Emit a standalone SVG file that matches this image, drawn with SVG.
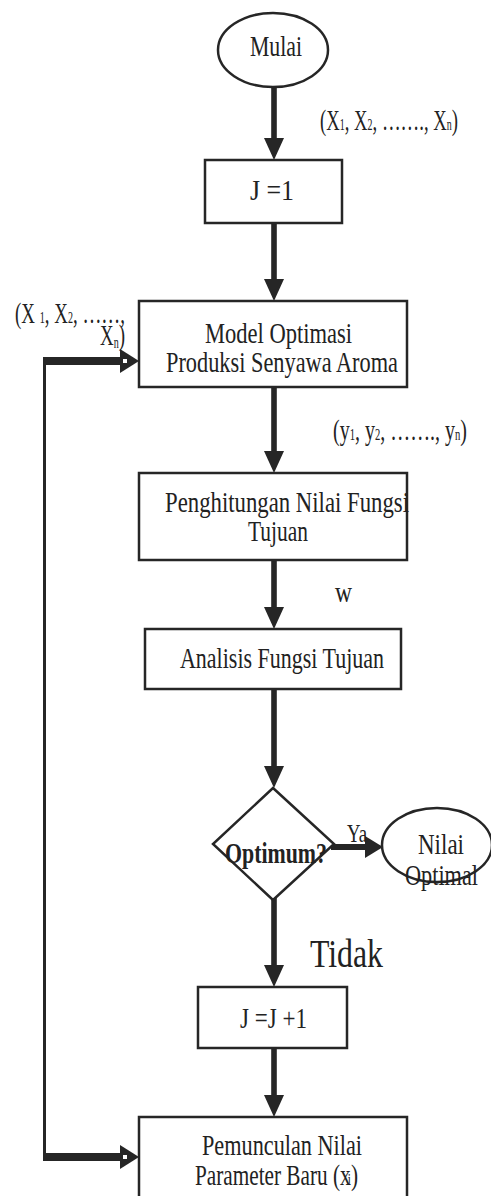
<svg xmlns="http://www.w3.org/2000/svg" width="491" height="1196" viewBox="0 0 491 1196">
<style>
.box{fill:#fff;stroke:#262626;stroke-width:2.5}
.term{fill:#fff;stroke:#262626;stroke-width:2.5}
.t{font-family:"Liberation Serif","Times New Roman",serif;font-size:30px;fill:#222}
.b{font-weight:bold}
.sub{font-size:16px}
.shaft{fill:#262626}
.head{fill:#262626}
.thin{stroke:#262626;stroke-width:3;fill:none}
</style>
<rect width="491" height="1196" fill="#fff"/>
<g id="connectors">
  <rect class="shaft" x="271.2" y="88" width="5.6" height="52"/>
  <polygon class="head" points="264,138 284,138 274,160"/>
  <rect class="shaft" x="271.2" y="221" width="5.6" height="60"/>
  <polygon class="head" points="264,279 284,279 274,301"/>
  <rect class="shaft" x="271.2" y="386" width="5.6" height="67"/>
  <polygon class="head" points="264,451 284,451 274,473"/>
  <rect class="shaft" x="271.2" y="558" width="5.6" height="51"/>
  <polygon class="head" points="264,607 284,607 274,629"/>
  <rect class="shaft" x="271.2" y="688" width="5.6" height="80"/>
  <polygon class="head" points="264,766 284,766 274,788"/>
  <rect class="shaft" x="331" y="844" width="36" height="6"/>
  <polygon class="head" points="365,836 365,858 383,847"/>
  <rect class="shaft" x="271.2" y="898" width="5.6" height="69"/>
  <polygon class="head" points="264,965 284,965 274,987"/>
  <rect class="shaft" x="271.2" y="1046" width="5.6" height="51"/>
  <polygon class="head" points="264,1095 284,1095 274,1117"/>
  <line class="thin" x1="44.5" y1="357" x2="44.5" y2="1161"/>
  <rect class="shaft" x="43" y="357" width="80" height="8"/>
  <polygon class="head" points="120,349 120,373 139,361"/>
  <rect x="123" y="359" width="4" height="4" fill="#fff"/>
  <rect class="shaft" x="43" y="1153" width="80" height="8"/>
  <polygon class="head" points="120,1145 120,1169 139,1157"/>
  <rect x="123" y="1155" width="4" height="4" fill="#fff"/>
</g>
<g id="mulai">
  <ellipse class="term" cx="273" cy="50" rx="55" ry="37"/>
  <text class="t" x="250" y="56" textLength="52" lengthAdjust="spacingAndGlyphs">Mulai</text>
</g>
<g id="label-x">
  <text class="t" x="320" y="130" textLength="138" lengthAdjust="spacingAndGlyphs">(X<tspan class="sub">1</tspan>, X<tspan class="sub">2</tspan>, ……., X<tspan class="sub">n</tspan>)</text>
</g>
<g id="j1">
  <rect class="box" x="205" y="160" width="137" height="63"/>
  <text class="t" x="250" y="200" textLength="44" lengthAdjust="spacingAndGlyphs">J =1</text>
</g>
<g id="label-x-left">
  <text class="t" x="15" y="323" textLength="110" lengthAdjust="spacingAndGlyphs">(X <tspan class="sub">1</tspan>, X<tspan class="sub">2</tspan>, ……,</text>
  <text class="t" x="100" y="345" textLength="25" lengthAdjust="spacingAndGlyphs">X<tspan class="sub" dy="3">n</tspan><tspan dy="-3">)</tspan></text>
</g>
<g id="model">
  <rect class="box" x="139" y="301" width="268" height="86"/>
  <text class="t" x="205" y="343" textLength="147" lengthAdjust="spacingAndGlyphs">Model Optimasi</text>
  <text class="t" x="166" y="372" textLength="232" lengthAdjust="spacingAndGlyphs">Produksi Senyawa Aroma</text>
</g>
<g id="label-y">
  <text class="t" x="333" y="440" textLength="134" lengthAdjust="spacingAndGlyphs">(y<tspan class="sub">1</tspan>, y<tspan class="sub">2</tspan>, ……., y<tspan class="sub">n</tspan>)</text>
</g>
<g id="penghitungan">
  <rect class="box" x="139" y="473" width="268" height="87"/>
  <text class="t" x="165" y="512" textLength="244" lengthAdjust="spacingAndGlyphs">Penghitungan Nilai Fungsi</text>
  <text class="t" x="248" y="541" textLength="60" lengthAdjust="spacingAndGlyphs">Tujuan</text>
</g>
<g id="label-w">
  <text class="t" x="335" y="602" textLength="17" lengthAdjust="spacingAndGlyphs">w</text>
</g>
<g id="analisis">
  <rect class="box" x="145" y="629" width="256" height="60"/>
  <text class="t" x="180" y="668" textLength="204" lengthAdjust="spacingAndGlyphs">Analisis Fungsi Tujuan</text>
</g>
<g id="optimum">
  <polygon class="box" points="273,788 334,844 273,900 213,844"/>
  <text class="t b" x="225" y="863" textLength="102" lengthAdjust="spacingAndGlyphs">Optimum?</text>
</g>
<g id="label-ya">
  <text class="t" x="347" y="842" textLength="20" lengthAdjust="spacingAndGlyphs" style="font-size:25px">Ya</text>
</g>
<g id="nilai-optimal">
  <ellipse class="term" cx="437" cy="845" rx="55" ry="37"/>
  <text class="t" x="418" y="854" textLength="46" lengthAdjust="spacingAndGlyphs">Nilai</text>
  <text class="t" x="405" y="885" textLength="73" lengthAdjust="spacingAndGlyphs">Optimal</text>
</g>
<g id="label-tidak">
  <text class="t" x="310" y="967" textLength="73" lengthAdjust="spacingAndGlyphs" style="font-size:41px">Tidak</text>
</g>
<g id="j-plus">
  <rect class="box" x="198" y="987" width="149" height="61"/>
  <text class="t" x="240" y="1028" textLength="67" lengthAdjust="spacingAndGlyphs">J =J +1</text>
</g>
<g id="pemunculan">
  <rect class="box" x="139" y="1117" width="268" height="85"/>
  <text class="t" x="202" y="1155" textLength="160" lengthAdjust="spacingAndGlyphs">Pemunculan Nilai</text>
  <text class="t" x="195" y="1185" textLength="163" lengthAdjust="spacingAndGlyphs">Parameter Baru (x<tspan class="sub" dx="-4">i</tspan>)</text>
</g>
</svg>
